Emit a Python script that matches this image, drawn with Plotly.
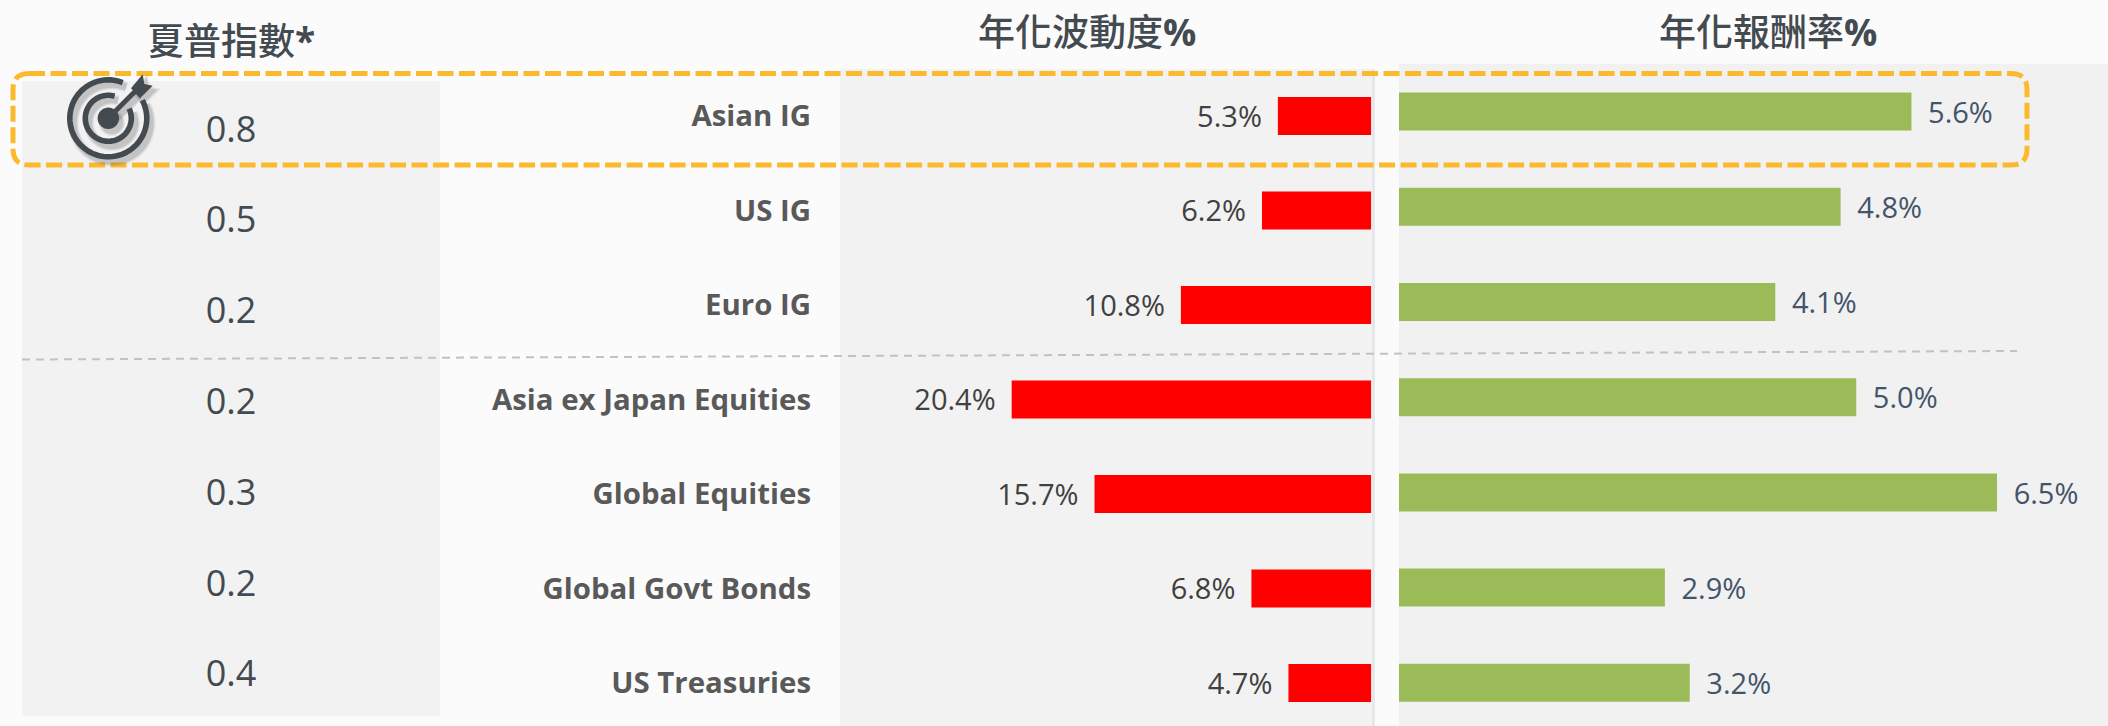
import numpy as np
import plotly.graph_objects as go

categories = ["Asian IG", "US IG", "Euro IG", "Asia ex Japan Equities", "Global Equities", "Global Govt Bonds", "US Treasuries"]
volatility = [5.3, 6.2, 10.8, 20.4, 15.7, 6.8, 4.7]
returns = [5.57, 4.8, 4.09, 4.97, 6.5, 2.89, 3.16]
volatility_labels = ["5.3%", "6.2%", "10.8%", "20.4%", "15.7%", "6.8%", "4.7%"]
return_labels = ["5.6%", "4.8%", "4.1%", "5.0%", "6.5%", "2.9%", "3.2%"]
sharpe = [0.8, 0.5, 0.2, 0.2, 0.3, 0.2, 0.4]

W, H = 2108, 726
FONT = "'Open Sans', 'Noto Sans CJK TC', sans-serif"
DARK = "#434a50"


def px(x):
    return x / W


def py(y):
    return 1 - y / H


def dom_x(a, b):
    return [px(a), px(b)]


def cat_range(center0, step):
    return [(H - center0) / step, -center0 / step]


def path_pts(points, close=True):
    s = "M " + " L ".join(f"{px(x):.5f},{py(y):.5f}" for x, y in points)
    return s + (" Z" if close else "")


def arc(cx, cy, r, a0, a1):
    return [(cx + r * np.cos(np.radians(t)), cy - r * np.sin(np.radians(t))) for t in np.linspace(a0, a1, 70)]


shapes = []


def rect(x0, y0, x1, y1, color):
    shapes.append(dict(type="rect", xref="paper", yref="paper", x0=px(x0), x1=px(x1), y0=py(y0), y1=py(y1),
                       fillcolor=color, line=dict(width=0), layer="below"))


rect(22, 81, 440, 716, "#f2f2f2")
rect(840, 69, 1372, 726, "#f2f2f2")
rect(1372, 69, 1375, 726, "#e4e8ea")
rect(1399, 64, 2108, 726, "#f1f1f1")

# dashed divider between bonds and equities
shapes.append(dict(type="line", xref="paper", yref="paper", x0=px(22), y0=py(359.5), x1=px(2017), y1=py(351),
                   line=dict(color="#c2c2c2", width=2, dash="8px,6px"), layer="above"))

# highlight box
bx0, by0, bx1, by1, rad = 13, 73.5, 2027, 165, 16
box = (f"M {px(bx0+rad):.5f},{py(by0):.5f} L {px(bx1-rad):.5f},{py(by0):.5f} "
       f"Q {px(bx1):.5f},{py(by0):.5f} {px(bx1):.5f},{py(by0+rad):.5f} "
       f"L {px(bx1):.5f},{py(by1-rad):.5f} Q {px(bx1):.5f},{py(by1):.5f} {px(bx1-rad):.5f},{py(by1):.5f} "
       f"L {px(bx0+rad):.5f},{py(by1):.5f} Q {px(bx0):.5f},{py(by1):.5f} {px(bx0):.5f},{py(by1-rad):.5f} "
       f"L {px(bx0):.5f},{py(by0+rad):.5f} Q {px(bx0):.5f},{py(by0):.5f} {px(bx0+rad):.5f},{py(by0):.5f}")
shapes.append(dict(type="path", xref="paper", yref="paper", path=box,
                   line=dict(color="#fdb92e", width=5, dash="16px,5.5px"), layer="above"))


# target icon
def icon(dx, dy, color, opacity, extra):
    cx, cy = 108.3 + dx, 118.3 + dy
    common = dict(type="path", xref="paper", yref="paper", opacity=opacity, layer="above")
    shapes.append(dict(path=path_pts(arc(cx, cy, 38.5, 68, 388), False),
                       line=dict(color=color, width=5.6 + extra), **common))
    shapes.append(dict(path=path_pts(arc(cx, cy, 23, 74, 385), False),
                       line=dict(color=color, width=5.6 + extra), **common))
    shapes.append(dict(path=path_pts(arc(cx, cy, 10.7 + extra / 2, 0, 360)),
                       fillcolor=color, line=dict(width=0), **common))
    shapes.append(dict(path=path_pts([(cx, cy), (cx + 27, cy - 27)], False),
                       line=dict(color=color, width=5 + extra), **common))
    head = [(278, 28), (283, 57), (308, 62), (270, 100), (243, 70)]
    shapes.append(dict(path=path_pts([(50 + a / 3 + dx, 65 + b / 3 + dy) for a, b in head]),
                       fillcolor=color, line=dict(width=extra, color=color), **common))


for extra, op in [(5, 0.07), (3, 0.10), (1, 0.14)]:
    icon(3.5, 4.5, "#555555", op, extra)
icon(0, 0, DARK, 1, 0)

fig = go.Figure()
fig.add_trace(go.Bar(x=volatility, y=categories, orientation="h", xaxis="x", yaxis="y",
                     marker=dict(color="#ff0000", line=dict(width=0)), width=38 / 94.5, showlegend=False))
fig.add_trace(go.Scatter(x=volatility, y=categories, xaxis="x", yaxis="y4", mode="markers+text",
                         text=volatility_labels, textposition="middle left",
                         textfont=dict(family=FONT, size=29, color="#404040"),
                         marker=dict(size=24, opacity=0), showlegend=False, cliponaxis=False))
fig.add_trace(go.Bar(x=returns, y=categories, orientation="h", xaxis="x2", yaxis="y2",
                     marker=dict(color="#9bbb59", line=dict(width=0)), width=38 / 95.2, showlegend=False))
fig.add_trace(go.Scatter(x=returns, y=categories, xaxis="x2", yaxis="y5", mode="markers+text",
                         text=return_labels, textposition="middle right",
                         textfont=dict(family=FONT, size=29, color="#44546a"),
                         marker=dict(size=25, opacity=0), showlegend=False, cliponaxis=False))
fig.add_trace(go.Scatter(x=[0.5] * len(sharpe), y=categories, xaxis="x3", yaxis="y3", mode="text",
                         text=[f"{v:.1f}" for v in sharpe], textposition="middle center",
                         textfont=dict(family=FONT, size=36, color=DARK), showlegend=False, cliponaxis=False))

hidden = dict(visible=False, fixedrange=True)
annotations = [
    dict(text=t, x=px(x), y=py(y), xref="paper", yref="paper", xanchor="center", yanchor="middle", showarrow=False,
         font=dict(family=FONT, size=37, color=DARK, weight=500))
    for t, x, y in [("夏普指數<b>*</b>", 231, 41), ("年化波動度<b>%</b>", 1087, 31), ("年化報酬率<b>%</b>", 1768, 31)]
]

cat_axis = dict(domain=[0, 1], type="category", categoryorder="array", categoryarray=categories)
fig.update_layout(
    width=W, height=H, margin=dict(l=0, r=0, t=0, b=0), autosize=False,
    paper_bgcolor="#fbfbfb", plot_bgcolor="rgba(0,0,0,0)", barmode="overlay",
    shapes=shapes, annotations=annotations, hovermode=False,
    xaxis=dict(domain=dom_x(841, 1371.3), range=[530.3 / 17.63, 0], **hidden),
    xaxis2=dict(domain=dom_x(1399, 2108), range=[0, 709 / 92], **hidden),
    xaxis3=dict(domain=dom_x(22, 440), range=[0, 1], **hidden),
    yaxis=dict(range=cat_range(116.1, 94.5), anchor="free", position=px(811), side="left", showgrid=False,
               zeroline=False, showline=False, ticks="", automargin=False, fixedrange=True,
               tickfont=dict(family=FONT, size=29.4, color="#595959", weight=700), **cat_axis),
    yaxis2=dict(range=cat_range(111.6, 95.2), anchor="x2", **hidden, **cat_axis),
    yaxis3=dict(range=cat_range(132.5, 90.8), anchor="x3", **hidden, **cat_axis),
    yaxis4=dict(range=cat_range(119.6, 94.5), anchor="x", **hidden, **cat_axis),
    yaxis5=dict(range=cat_range(115.6, 95.2), anchor="x2", **hidden, **cat_axis),
)

fig.write_html("out.html", config=dict(displayModeBar=False),
               post_script="document.body.style.margin='0';document.body.style.overflow='hidden';")
